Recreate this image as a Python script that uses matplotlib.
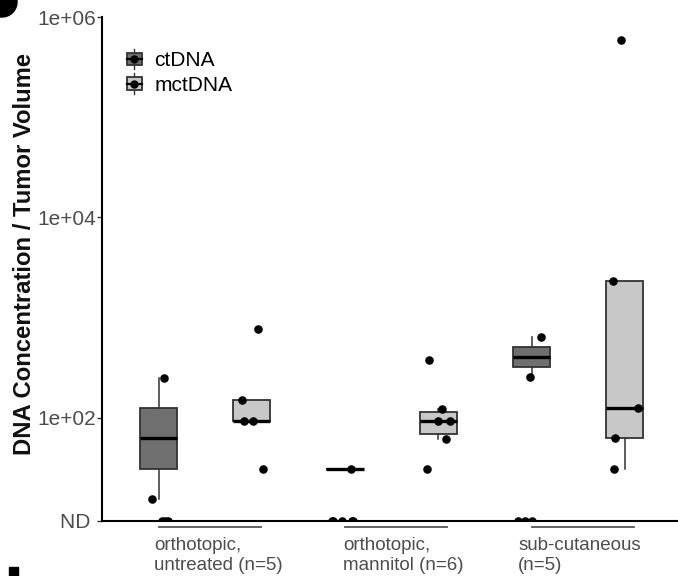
import numpy as np
import matplotlib
matplotlib.use("Agg")
import matplotlib.pyplot as plt
from matplotlib.patches import Rectangle, Circle, Patch
from matplotlib.lines import Line2D
from matplotlib.legend_handler import HandlerBase

plt.rcParams['font.family'] = ['Liberation Sans', 'DejaVu Sans']

# values, None = not detected (ND)
group_labels = ["orthotopic,\nuntreated (n=5)",
                "orthotopic,\nmannitol (n=6)",
                "sub-cutaneous\n(n=5)"]
series_names = ["ctDNA", "mctDNA"]

ctdna_untreated = [250, 15.4, None, None, None]
mctdna_untreated = [766, 149, 92.7, 92.7, 30.7]
ctdna_mannitol = [30.7, None, None, None, None, None]
mctdna_mannitol = [372, 123, 93, 93, 61.7, 30.7]
ctdna_subcut = [641, 255, None, None, None]
mctdna_subcut = [589000, 2290, 124, 62, 30.7]

ytick_values = [1e2, 1e4, 1e6]
ytick_labels = ["1e+02", "1e+04", "1e+06"]

# horizontal jitter of the dots (pixels), same order as the values above
jitter_untreated = ([5.5, -6.5, 3.5, 6, 9.5], [6, -10, -8, 1, 11])
jitter_mannitol = ([6, -13, -3, 8, -12, 7], [-9.3, 4, 0, 11.7, 7.7, -11])
jitter_subcut = ([9, -1.3, -13.3, -7, 0.7], [-3.6, -11.3, 13.4, -9.3, -10.6])

fills = ["#6f6f6f", "#c8c8c8"]
ND_LOG = 0.967          # where "ND" sits on the log10 axis
PX_PER_UNIT = 186.5     # x pixels per group step

data = [(ctdna_untreated, mctdna_untreated),
        (ctdna_mannitol, mctdna_mannitol),
        (ctdna_subcut, mctdna_subcut)]
jitters = [jitter_untreated, jitter_mannitol, jitter_subcut]

fig = plt.figure(figsize=(6.78, 5.76), dpi=100)
ax = fig.add_axes([102 / 678, 55 / 576, 576 / 678, 504 / 576])

for gi, (pair, jit) in enumerate(zip(data, jitters)):
    for si, vals in enumerate(pair):
        pos = gi + 1 + (-0.25 if si == 0 else 0.25)
        logs = [np.log10(v) for v in vals if v is not None]
        ax.boxplot([logs], positions=[pos], widths=0.2, whis=1.5,
                   showfliers=False, showcaps=False, patch_artist=True,
                   manage_ticks=False,
                   boxprops=dict(facecolor=fills[si], edgecolor="#333333", linewidth=1.3),
                   medianprops=dict(color="black", linewidth=2.4),
                   whiskerprops=dict(color="#333333", linewidth=1.1))
        xs = [pos + j / PX_PER_UNIT for j in jit[si]]
        ys = [np.log10(v) if v is not None else ND_LOG for v in vals]
        ax.scatter(xs, ys, s=38, color="black", zorder=3, linewidths=0)

ax.set_xlim(0.75 - 56.5 / PX_PER_UNIT, 0.75 - 56.5 / PX_PER_UNIT + 576 / PX_PER_UNIT)
ax.set_ylim(ND_LOG, 6)

ax.spines['top'].set_visible(False)
ax.spines['right'].set_visible(False)
ax.spines['left'].set_linewidth(1.5)
ax.spines['bottom'].set_linewidth(1.5)
ax.set_xticks([])
ax.set_yticks([ND_LOG] + [np.log10(v) for v in ytick_values])
ax.set_yticklabels(["ND "] + ytick_labels)
ax.tick_params(axis='y', length=3.5, width=1, color="#333333",
               labelsize=15, labelcolor="#4d4d4d", pad=0.5)

# group labels with a short line above each
label_dx = [-0.274, -0.261, -0.321]
for gi, lab in enumerate(group_labels):
    c = gi + 1
    ax.plot([c - 0.248, c + 0.298], [ND_LOG - 0.063] * 2, color="#555555",
            linewidth=1.3, clip_on=False)
    ax.annotate(lab, xy=(c + label_dx[gi], 0), xycoords=('data', 'axes fraction'),
                xytext=(0, -11.5), textcoords='offset points', ha='left', va='top',
                fontsize=13.5, color="#4d4d4d", annotation_clip=False)

fig.text(25 / 678, 1 - 253.5 / 576, "DNA Concentration / Tumor Volume",
         rotation=90, ha='center', va='center', fontsize=17.2, fontweight='bold',
         color="#111111")


class BoxKey(HandlerBase):
    def create_artists(self, legend, orig_handle, xdescent, ydescent,
                       width, height, fontsize, trans):
        x0, y0 = -xdescent, -ydescent
        cx, cy = x0 + width / 2, y0 + height / 2
        whisk = Line2D([cx, cx], [y0 - 0.2 * height, y0 + 1.2 * height],
                       color="#333333", linewidth=1.0, transform=trans)
        box = Rectangle((x0, y0 + 0.08 * height), width, 0.84 * height,
                        facecolor=orig_handle.get_facecolor(),
                        edgecolor="#333333", linewidth=1.3, transform=trans)
        med = Line2D([x0, x0 + width], [cy, cy], color="black",
                     linewidth=1.6, transform=trans)
        dot = Line2D([cx], [cy], marker='o', markersize=5, color="black",
                     linestyle='none', transform=trans)
        return [whisk, box, med, dot]


handles = [Patch(facecolor=f) for f in fills]
ax.legend(handles, series_names, handler_map={Patch: BoxKey()},
          loc='upper left', bbox_to_anchor=(127 / 678, 1 - 51 / 576),
          bbox_transform=fig.transFigure, frameon=False, fontsize=15,
          handlelength=0.7, handleheight=0.7, handletextpad=0.6,
          labelspacing=0.28, borderpad=0, borderaxespad=0)

# bits of neighbouring panel labels cut off at the edges
fig.patches.append(Circle((2, 574), 15, transform=None, color="black"))
fig.patches.append(Rectangle((9, 0), 9, 9, transform=None, color="black"))

fig.savefig("out.png", dpi=100)
